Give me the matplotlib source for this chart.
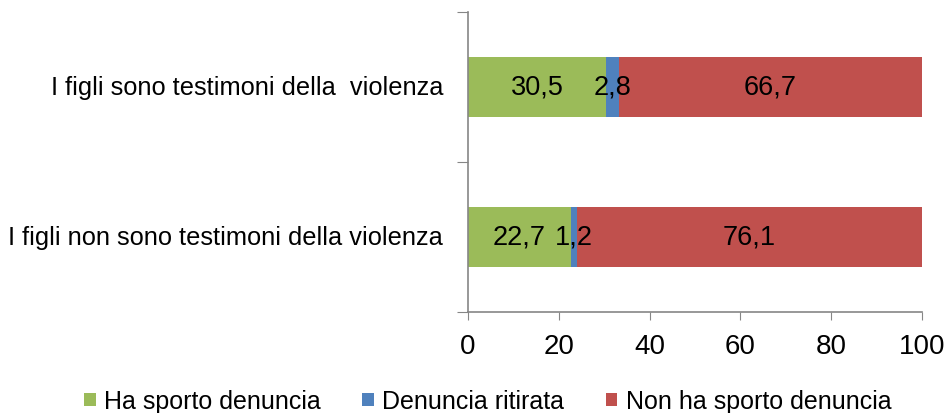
import matplotlib.pyplot as plt
import numpy as np

plt.rcParams['font.family'] = ['Liberation Sans', 'DejaVu Sans']

categories = ["I figli non sono testimoni della violenza",
              "I figli sono testimoni della  violenza"]
series = ["Ha sporto denuncia", "Denuncia ritirata", "Non ha sporto denuncia"]
ha_sporto = [22.7, 30.5]
ritirata = [1.2, 2.8]
non_sporto = [76.1, 66.7]
colors = ["#9BBB59", "#4F81BD", "#C0504D"]

fig = plt.figure(figsize=(9.53, 4.14), dpi=100)
ax = fig.add_axes([468/953, 101/414, 454/953, 300/414])

y = np.arange(len(categories))
left = np.zeros(len(categories))
for name, vals, c in zip(series, [ha_sporto, ritirata, non_sporto], colors):
    bars = ax.barh(y, vals, left=left, height=0.4, color=c, label=name)
    for yi, l, v in zip(y, left, vals):
        ax.text(l + v / 2, yi, ("%.1f" % v).replace(".", ","), ha="center",
                va="center", fontsize=19.5, color="black")
    left = left + np.array(vals)

ax.set_xlim(0, 100)
ax.set_ylim(-0.5, 1.5)
ax.set_xticks([0, 20, 40, 60, 80, 100])
ax.set_yticks([-0.5, 0.5, 1.5])
ax.set_yticklabels([])
ax.tick_params(axis="x", labelsize=20, length=6, color="#868686", pad=9)
ax.tick_params(axis="y", length=8, color="#868686")
for yi, cat in zip(y, categories):
    ax.text(-0.055, yi, cat, transform=ax.get_yaxis_transform(), ha="right",
            va="center", fontsize=18.3)
for s in ["top", "right"]:
    ax.spines[s].set_visible(False)
for s in ["left", "bottom"]:
    ax.spines[s].set_color("#868686")
    ax.spines[s].set_linewidth(1.2)

fig.legend(loc="lower center", ncol=3, frameon=False, fontsize=18,
           bbox_to_anchor=(0.512, -0.055), handlelength=0.45, handleheight=0.45,
           handletextpad=0.35, columnspacing=1.65)

fig.savefig("out.png", dpi=100)
